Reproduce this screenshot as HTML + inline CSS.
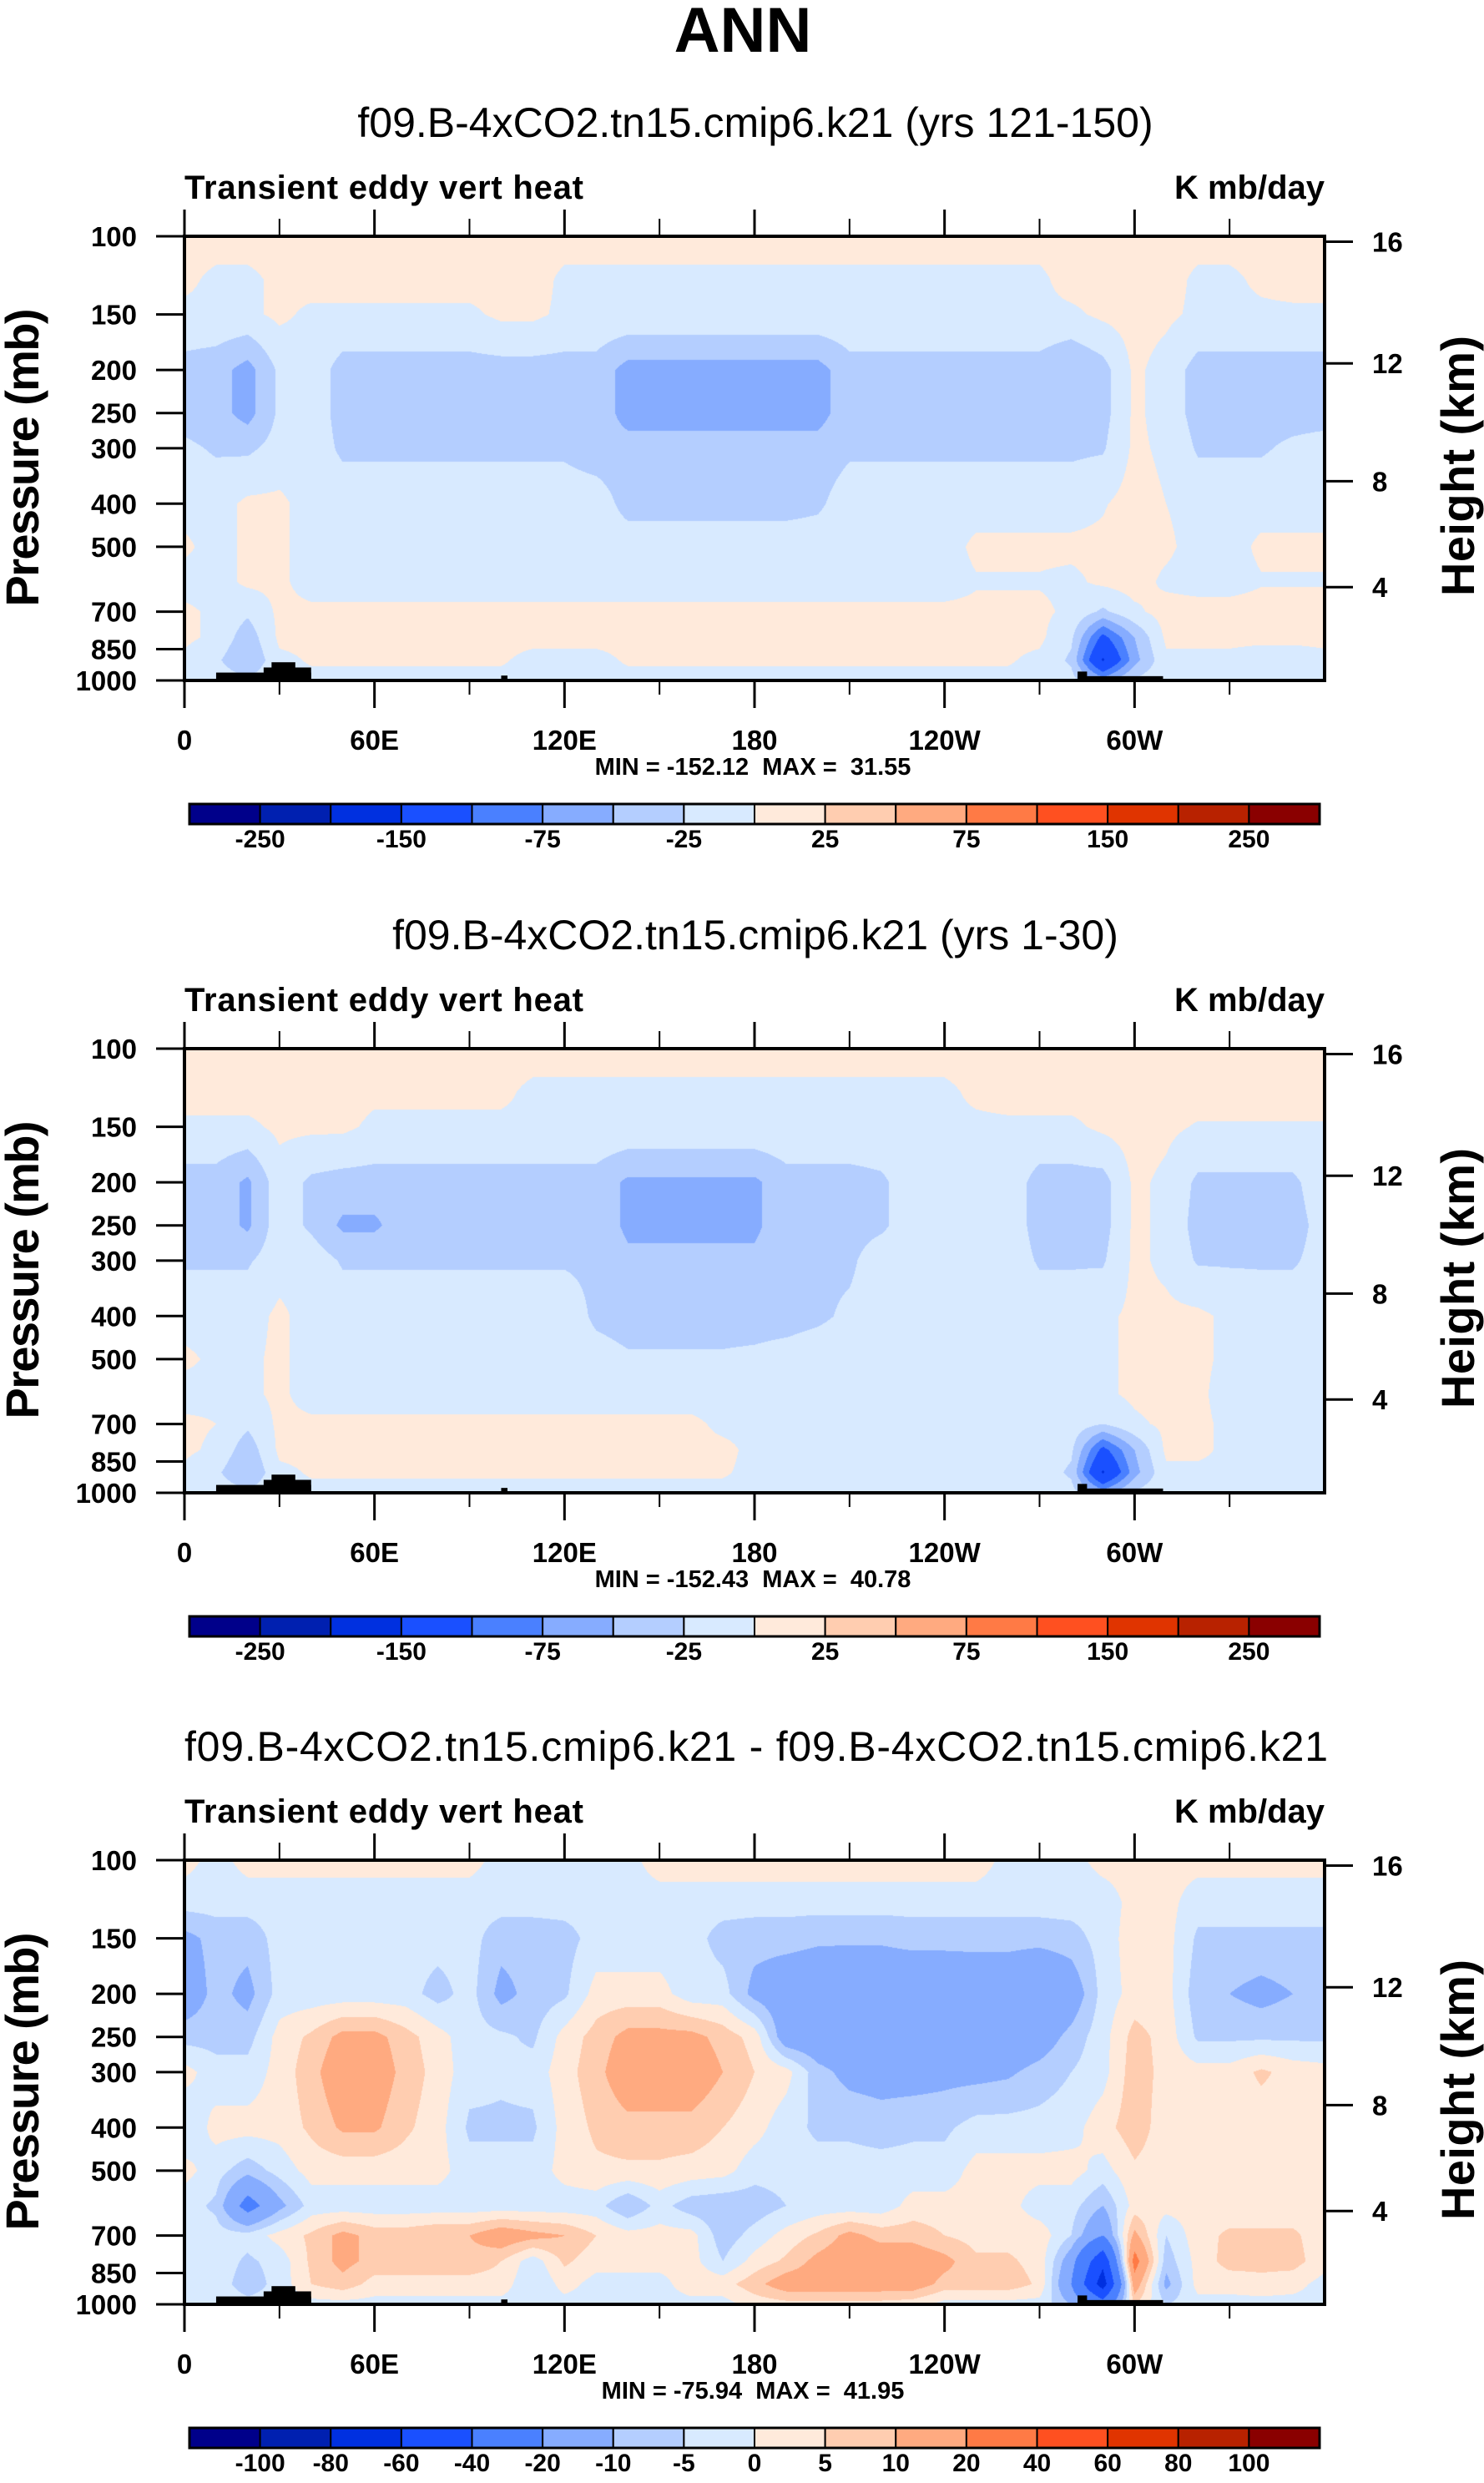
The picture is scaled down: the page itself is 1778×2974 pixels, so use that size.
<!DOCTYPE html>
<html><head><meta charset="utf-8">
<style>
html,body{margin:0;padding:0;background:#fff;}
#wrap{position:relative;width:1778px;height:2974px;overflow:hidden;background:#fff;}
canvas{position:absolute;}
svg{position:absolute;left:0;top:0;}
text{font-family:"Liberation Sans",Arial,sans-serif;fill:#000;white-space:pre;}
</style></head>
<body>
<div id="wrap">
<canvas id="c1" width="1366" height="532" style="left:221px;top:283px"></canvas>
<canvas id="c2" width="1366" height="532" style="left:221px;top:1256px"></canvas>
<canvas id="c3" width="1366" height="532" style="left:221px;top:2228px"></canvas>
<svg id="ov" width="1778" height="2974" viewBox="0 0 1778 2974">
<text x="890" y="62" font-size="76" font-weight="bold" text-anchor="middle">ANN</text>
</svg>
</div>
<script>
const pressureLevels=[100,125,150,200,250,300,400,500,600,700,800,900,1000];
const lonGrid=[0,10,20,30,40,50,60,70,80,90,100,110,120,130,140,150,160,170,180,190,200,210,220,230,240,250,260,270,280,290,300,310,320,330,340,350,360];

const fieldYrs121=[
[10,10,10,10,10,10,10,10,10,10,10,10,10,10,10,10,10,10,10,10,10,10,10,10,10,10,10,10,10,10,10,10,10,10,10,10,10],
[5,-5,-5,5,10,10,10,10,10,10,10,10,-5,-5,-5,-5,-5,-5,-5,-5,-5,-5,-5,-5,-5,-5,-5,-5,10,10,10,10,-5,-5,5,10,10],
[-5,-5,-5,5,-5,-5,-5,-5,-5,-5,5,5,-5,-5,-5,-5,-5,-5,-5,-5,-5,-5,-5,-5,-5,-5,-5,-5,-5,5,10,5,-5,-5,-5,-5,-5],
[-35,-40,-60,-20,-10,-35,-35,-35,-35,-35,-35,-35,-35,-35,-60,-60,-60,-60,-60,-60,-60,-35,-35,-35,-35,-35,-35,-35,-50,-35,5,-10,-35,-35,-35,-35,-35],
[-35,-40,-60,-20,-10,-35,-35,-35,-35,-35,-35,-35,-35,-35,-60,-60,-60,-60,-60,-60,-60,-35,-35,-35,-35,-35,-35,-35,-50,-35,5,-10,-35,-35,-35,-35,-35],
[-20,-28,-30,-15,-10,-30,-30,-30,-30,-30,-30,-30,-30,-40,-40,-40,-40,-40,-40,-40,-40,-30,-30,-30,-30,-30,-30,-30,-30,-28,5,-5,-28,-28,-28,-20,-15],
[-10,-10,5,5,-10,-10,-10,-10,-10,-10,-10,-10,-10,-10,-35,-35,-35,-35,-35,-35,-30,-10,-10,-10,-10,-10,-10,-10,-10,-2,10,0,-10,-10,-10,-10,-10],
[5,-10,5,5,-10,-10,-10,-10,-10,-10,-10,-10,-10,-10,-10,-10,-10,-10,-10,-10,-10,-10,-10,-10,-10,5,5,5,5,5,10,5,-10,-10,5,5,5],
[-10,-10,5,5,-10,-10,-10,-10,-10,-10,-10,-10,-10,-10,-10,-10,-10,-10,-10,-10,-10,-10,-10,-10,-10,-2,-2,-2,-5,5,10,-5,-10,-10,-2,-2,-2],
[5,-5,-20,5,5,5,5,5,5,5,5,5,5,5,5,5,5,5,5,5,5,5,5,5,5,5,5,5,-5,-30,-5,10,10,10,10,10,10],
[5,-5,-40,5,5,5,5,5,5,5,5,5,5,5,5,5,5,5,5,5,5,5,5,5,5,5,5,5,-20,-110,-50,5,5,5,5,5,5],
[-5,-20,-50,-5,2,2,2,2,2,2,2,-5,-5,-5,2,2,2,2,2,2,2,2,2,2,2,2,2,-5,-30,-155,-60,-5,-5,-5,-10,-10,-5],
[-5,-10,-20,-5,-5,-5,-5,-5,-5,-5,-5,-5,-5,-5,-5,-5,-5,-5,-5,-5,-5,-5,-5,-5,-5,-5,-5,-5,-15,-60,-20,-5,-5,-5,-5,-5,-5]
];
const fieldYrs1=[
[10,10,10,10,10,10,10,10,10,10,10,10,10,10,10,10,10,10,10,10,10,10,10,10,10,10,10,10,10,10,10,10,10,10,10,10,10],
[10,10,10,10,10,10,5,5,5,5,5,-5,-5,-5,-5,-5,-5,-5,-5,-5,-5,-5,-5,-5,-5,5,10,10,10,10,10,10,10,10,10,10,10],
[-5,-5,-5,5,5,5,-5,-5,-5,-5,-5,-5,-5,-5,-5,-5,-5,-5,-5,-5,-5,-5,-5,-5,-5,-5,-5,-5,-5,5,10,5,-2,-2,-2,-2,-2],
[-35,-35,-55,-10,-30,-35,-35,-35,-35,-35,-35,-35,-35,-35,-55,-55,-55,-55,-55,-35,-35,-35,-30,-10,-10,-10,-10,-35,-35,-35,5,-5,-30,-30,-30,-30,-10],
[-35,-35,-55,-10,-30,-55,-55,-35,-35,-35,-35,-35,-35,-35,-55,-55,-55,-55,-55,-35,-35,-35,-30,-10,-10,-10,-10,-35,-35,-35,5,-5,-35,-35,-35,-35,-15],
[-28,-28,-28,-10,-10,-28,-28,-28,-28,-28,-28,-28,-28,-30,-45,-45,-45,-45,-45,-35,-30,-30,-10,-10,-10,-10,-10,-28,-28,-28,5,-5,-28,-28,-28,-28,-15],
[-10,-10,-10,5,-10,-10,-10,-10,-10,-10,-10,-10,-10,-30,-35,-35,-35,-35,-35,-35,-30,-20,-10,-10,-10,-10,-10,-10,-10,-5,5,5,5,-5,-10,-10,-10],
[5,-5,-5,5,-10,-10,-10,-10,-10,-10,-10,-10,-10,-15,-22,-22,-22,-22,-20,-15,-10,-10,-10,-10,-10,-10,-5,-10,-10,-5,5,10,5,-5,-10,-10,-10],
[-10,-5,-5,5,-10,-10,-10,-10,-10,-10,-10,-10,-10,-10,-10,-10,-10,-10,-10,-10,-10,-10,-10,-10,-10,-10,-10,-10,-10,-5,5,10,5,-10,-10,-10,-10],
[5,0,-20,5,5,5,5,5,5,5,5,5,5,5,5,5,5,-5,-5,-5,-5,-5,-5,-5,-5,-5,-5,-5,-10,-25,-5,5,5,-5,-5,-5,-5],
[5,-5,-40,5,5,5,5,5,5,5,5,5,5,5,5,5,5,5,-5,-5,-5,-5,-5,-5,-5,-5,-5,-5,-20,-110,-50,5,5,-5,-5,-5,-5],
[-5,-20,-50,-5,2,2,2,2,2,2,2,2,2,2,2,2,2,2,-5,-5,-5,-5,-5,-5,-5,-5,-5,-10,-30,-155,-60,-5,-5,-5,-5,-5,-5],
[-5,-10,-20,-5,-5,-5,-5,-5,-5,-5,-5,-5,-5,-5,-5,-5,-5,-5,-5,-5,-5,-5,-5,-5,-5,-5,-5,-5,-15,-60,-20,-5,-5,-5,-5,-5,-5]
];
const fieldDiff=[
[2,-2,2,2,2,2,2,2,2,2,-2,-2,-2,-2,-2,3,3,3,3,3,3,3,3,3,3,3,-2,-2,-2,2,2,2,2,2,2,2,2],
[-3,-3,-3,-3,-3,-3,-3,-3,-3,-3,-3,-3,-3,-3,-3,-3,-3,-3,-3,-3,-3,-3,-3,-3,-3,-3,-3,-3,-3,-3,2,2,-3,-3,-3,-3,-3],
[-12,-8,-8,-3,-3,-3,-3,-3,-3,-3,-8,-8,-7,-3,-3,-3,-3,-7,-8,-8,-9,-9,-9,-8,-8,-8,-8,-8,-7,-3,3,2,-6,-6,-6,-6,-6],
[-15,-8,-12,-3,-3,-3,-3,-3,-7,-3,-12,-8,-6,2,2,2,-3,-3,-12,-15,-16,-17,-17,-17,-17,-16,-16,-20,-15,-3,2,2,-8,-10,-12,-10,-10],
[-7,-7,-7,2,6,12,12,7,2,-3,-4,-6,2,7,12,12,12,8,3,-15,-16,-17,-18,-18,-18,-17,-16,-14,-8,-2,7,3,-6,-6,-6,-6,-6],
[2,-3,-3,2,8,15,14,8,3,-3,-4,-3,3,8,15,15,15,10,5,2,-8,-12,-13,-13,-12,-12,-11,-8,-5,-2,8,3,2,2,6,3,2],
[-5,2,2,2,6,11,11,6,2,-6,-6,-6,2,6,8,8,8,5,2,-3,-6,-6,-7,-6,-6,-3,-3,-3,-2,3,8,2,2,2,2,2,2],
[2,-3,-8,-3,2,2,2,2,2,-3,-3,-3,2,4,4,4,3,2,-3,-3,-3,-3,-3,-3,-3,2,2,2,2,-2,4,2,2,2,2,2,2],
[-3,-6,-25,-12,-3,-3,-3,-3,-3,-3,-3,-3,-3,-3,-10,-3,-8,-9,-8,-5,-3,-3,-3,2,2,2,2,-3,-3,-10,2,2,2,2,2,2,2],
[-2,-3,-3,2,6,12,8,8,10,10,15,12,10,5,2,2,2,-8,-3,2,6,12,8,8,5,3,3,3,-5,-20,12,-5,3,6,6,6,2],
[-2,-2,-6,-3,6,12,8,8,8,8,5,-3,6,2,2,2,2,-5,2,6,12,15,15,15,12,6,6,3,-15,-55,25,-8,2,7,7,7,2],
[-2,-2,-8,-3,5,8,3,3,3,3,3,-5,2,-2,-2,-2,3,3,8,14,14,14,14,14,8,8,8,4,-20,-70,15,-12,2,2,3,2,-2],
[-2,-2,-3,-3,-2,-2,-2,-2,-2,-2,-2,-3,-2,-2,-2,-2,-2,-2,2,3,3,3,3,2,-2,-2,-2,-2,-10,-30,5,-5,-2,-2,-2,-2,-2]
];
const levelsAbs=[-250,-200,-150,-100,-75,-50,-25,0,25,50,75,100,150,200,250];
const levelsDiff=[-100,-80,-60,-40,-20,-10,-5,0,5,10,20,40,60,80,100];
const labelsAbs=['-250','','-150','','-75','','-25','','25','','75','','150','','250'];
const labelsDiff=['-100','-80','-60','-40','-20','-10','-5','0','5','10','20','40','60','80','100'];
const colorRamp=['#00008a','#0020b0','#0030e0','#1a50ff','#4a80ff','#86acff','#b4ceff','#d8eaff','#ffeadb','#ffcdb0','#ffaa80','#ff7a45','#ff5020','#e03400','#b82200','#8a0000'];
const pressureTicks=[100,150,200,250,300,400,500,700,850,1000];
const heightTicks=[4,8,12,16];
const lonTicks=[0,60,120,180,240,300];
const lonTickLabels=['0','60E','120E','180','120W','60W'];
const lonMinorTicks=[30,90,150,210,270,330];
const panelTitles=['f09.B-4xCO2.tn15.cmip6.k21 (yrs 121-150)','f09.B-4xCO2.tn15.cmip6.k21 (yrs 1-30)','f09.B-4xCO2.tn15.cmip6.k21 - f09.B-4xCO2.tn15.cmip6.k21'];
const minMaxTexts=['MIN = -152.12  MAX =  31.55','MIN = -152.43  MAX =  40.78','MIN = -75.94  MAX =  41.95'];
const terrainLon0=[10,25,27.5,100,282,282];
const terrainLon1=[40,40,35,102,285,309];
const terrainP=[960,935,910,975,955,978];

const PL=221, PW=1366, PH=532;
const tops=[283,1256,2228];
function xOf(lon){return PL+lon/360*PW;}
function yOf(p,top){return top+PH*Math.log10(p/100);}
function pOfZ(z){return z<=11?1013.25*Math.pow(1-z/44.33,5.256):226.3*Math.exp(-(z-11)/6.34);}
function hex(c){return [parseInt(c.substr(1,2),16),parseInt(c.substr(3,2),16),parseInt(c.substr(5,2),16)];}
const rgb=colorRamp.map(hex);

function drawField(id,field,levels){
  const cv=document.getElementById(id),ctx=cv.getContext('2d');
  const img=ctx.createImageData(PW,PH),d=img.data;
  const lp=pressureLevels.map(p=>Math.log10(p));
  const nl=lonGrid.length;
  for(let py=0;py<PH;py++){
    const L=2+(py+0.5)/PH;
    let r=0;while(r<lp.length-2&&L>lp[r+1])r++;
    let t=(L-lp[r])/(lp[r+1]-lp[r]);t=Math.max(0,Math.min(1,t));
    for(let px=0;px<PW;px++){
      const lon=(px+0.5)/PW*360;
      let c=0;while(c<nl-2&&lon>lonGrid[c+1])c++;
      const s=(lon-lonGrid[c])/(lonGrid[c+1]-lonGrid[c]);
      const v=(1-t)*((1-s)*field[r][c]+s*field[r][c+1])+t*((1-s)*field[r+1][c]+s*field[r+1][c+1]);
      let k=0;while(k<levels.length&&v>=levels[k])k++;
      const col=rgb[k],i=(py*PW+px)*4;
      d[i]=col[0];d[i+1]=col[1];d[i+2]=col[2];d[i+3]=255;
    }
  }
  ctx.putImageData(img,0,0);
}
drawField('c1',fieldYrs121,levelsAbs);
drawField('c2',fieldYrs1,levelsAbs);
drawField('c3',fieldDiff,levelsDiff);

const NS='http://www.w3.org/2000/svg';
const svg=document.getElementById('ov');
function el(tag,attrs,parent){const e=document.createElementNS(NS,tag);for(const k in attrs)e.setAttribute(k,attrs[k]);(parent||svg).appendChild(e);return e;}
function txt(s,attrs,parent){const e=el('text',attrs,parent);e.textContent=s;return e;}

for(let pi=0;pi<3;pi++){
  const top=tops[pi],bot=top+PH;
  const g=el('g',{});
  
  
  const tt=txt(panelTitles[pi],{x:905,y:top-119,'font-size':50,'text-anchor':'middle'},g);
  
  
  if(pi===2){tt.setAttribute('textLength','1370');tt.setAttribute('x','221');tt.setAttribute('text-anchor','start');}
  const lt=txt('Transient eddy vert heat',{x:PL,y:top-45,'font-size':40,'font-weight':'bold',textLength:478},g);
  
  
  const ut=txt('K mb/day',{x:PL+PW,y:top-45,'font-size':40,'font-weight':'bold','text-anchor':'end'},g);
  
  
  for(let i=0;i<terrainP.length;i++){
    const y=yOf(terrainP[i],top);
    const r=el('rect',{x:xOf(terrainLon0[i]),y:y,width:xOf(terrainLon1[i])-xOf(terrainLon0[i]),height:bot-y,fill:'#000'},g);
    
    
  }
  const fr=el('rect',{x:PL,y:top,width:PW,height:PH,fill:'none',stroke:'#000','stroke-width':4},g);
  
  
  lonTicks.forEach((lon,i)=>{
    const x=xOf(lon);
    const a=el('line',{x1:x,x2:x,y1:top-32,y2:top,stroke:'#000','stroke-width':3},g);
    
    
    const b=el('line',{x1:x,x2:x,y1:bot,y2:bot+33,stroke:'#000','stroke-width':3},g);
    
    
    const l=txt(lonTickLabels[i],{x:x,y:bot+83,'font-size':33,'font-weight':'bold','text-anchor':'middle'},g);
    
    
  });
  lonMinorTicks.forEach(lon=>{
    const x=xOf(lon);
    const a=el('line',{x1:x,x2:x,y1:top-21,y2:top,stroke:'#000','stroke-width':2},g);
    
    
    const b=el('line',{x1:x,x2:x,y1:bot,y2:bot+17,stroke:'#000','stroke-width':2},g);
    
    
  });
  pressureTicks.forEach(p=>{
    const y=yOf(p,top);
    const a=el('line',{x1:PL-34,x2:PL,y1:y,y2:y,stroke:'#000','stroke-width':3},g);
    
    
    const l=txt(String(p),{x:164,y:y+12,'font-size':33,'font-weight':'bold','text-anchor':'end'},g);
    
    
  });
  heightTicks.forEach(z=>{
    const y=yOf(pOfZ(z),top);
    const a=el('line',{x1:PL+PW,x2:PL+PW+34,y1:y,y2:y,stroke:'#000','stroke-width':3},g);
    
    
    const l=txt(String(z),{x:1644,y:y+12,'font-size':33,'font-weight':'bold'},g);
    
    
  });
  const yt=txt('Pressure (mb)',{x:0,y:0,'font-size':56,'font-weight':'bold','text-anchor':'middle',textLength:357,transform:'translate(46,'+(top+265)+') rotate(-90)'},g);
  
  
  const ht=txt('Height (km)',{x:0,y:0,'font-size':56,'font-weight':'bold','text-anchor':'middle',textLength:312,transform:'translate(1766,'+(top+275)+') rotate(-90)'},g);
  
  
  const mm=txt(minMaxTexts[pi],{x:902,y:top+645,'font-size':29,'font-weight':'bold','text-anchor':'middle'},g);
  
  
  const cb0=227,cbW=1354,cbY=top+680,cbH=24,bw=cbW/16;
  const levels=pi===2?levelsDiff:levelsAbs;
  const labels=pi===2?labelsDiff:labelsAbs;
  colorRamp.forEach((c,k)=>{
    const r=el('rect',{x:cb0+k*bw,y:cbY,width:bw,height:cbH,fill:c,stroke:'#000','stroke-width':2},g);
    
    
  });
  const cbf=el('rect',{x:cb0,y:cbY,width:cbW,height:cbH,fill:'none',stroke:'#000','stroke-width':3},g);
  
  
  levels.forEach((v,k)=>{
    if(!labels[k])return;
    const l=txt(labels[k],{x:cb0+(k+1)*bw,y:cbY+52,'font-size':30,'font-weight':'bold','text-anchor':'middle'},g);
    
    
  });
}
</script>
</body></html>
